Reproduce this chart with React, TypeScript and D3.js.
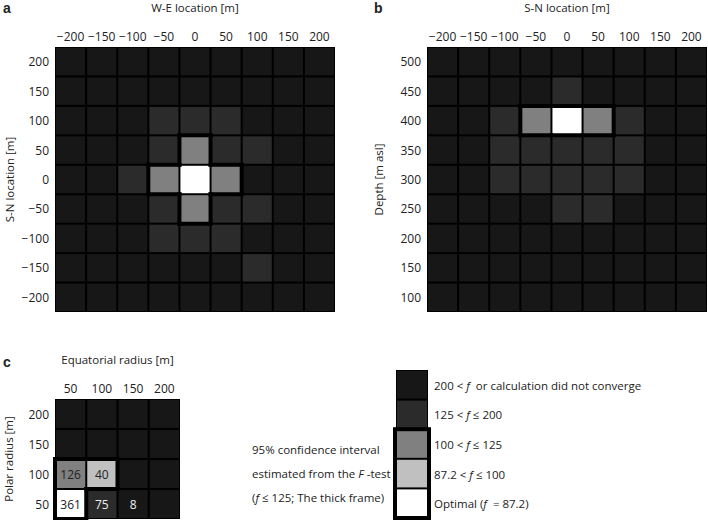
import React from 'react'
import * as d3 from 'd3'

// grey level per class: 0 = 200 < f (or no convergence) ... 4 = optimal
const levelColors = ['#171717', '#2b2b2b', '#808080', '#c0c0c0', '#ffffff']

const aCols = [-200, -150, -100, -50, 0, 50, 100, 150, 200]
const aRows = [200, 150, 100, 50, 0, -50, -100, -150, -200]
const aLevels = [
  [0, 0, 0, 0, 0, 0, 0, 0, 0],
  [0, 0, 0, 0, 0, 0, 0, 0, 0],
  [0, 0, 0, 1, 1, 1, 0, 0, 0],
  [0, 0, 0, 1, 2, 1, 1, 0, 0],
  [0, 0, 1, 2, 4, 2, 0, 0, 0],
  [0, 0, 0, 1, 2, 1, 1, 0, 0],
  [0, 0, 0, 1, 1, 1, 0, 0, 0],
  [0, 0, 0, 0, 0, 0, 1, 0, 0],
  [0, 0, 0, 0, 0, 0, 0, 0, 0],
]

const bCols = [-200, -150, -100, -50, 0, 50, 100, 150, 200]
const bRows = [500, 450, 400, 350, 300, 250, 200, 150, 100]
const bLevels = [
  [0, 0, 0, 0, 0, 0, 0, 0, 0],
  [0, 0, 0, 0, 1, 0, 0, 0, 0],
  [0, 0, 1, 2, 4, 2, 1, 0, 0],
  [0, 0, 1, 1, 1, 1, 1, 0, 0],
  [0, 0, 1, 1, 1, 1, 1, 0, 0],
  [0, 0, 0, 0, 1, 1, 0, 0, 0],
  [0, 0, 0, 0, 0, 0, 0, 0, 0],
  [0, 0, 0, 0, 0, 0, 0, 0, 0],
  [0, 0, 0, 0, 0, 0, 0, 0, 0],
]

const cCols = [50, 100, 150, 200]
const cRows = [200, 150, 100, 50]
const cLevels = [
  [0, 0, 0, 0],
  [0, 0, 0, 0],
  [2, 3, 0, 0],
  [4, 1, 0, 0],
]
const cCounts = [
  ['', '', '', ''],
  ['', '', '', ''],
  ['126', '40', '', ''],
  ['361', '75', '8', ''],
]

// *x* marks italic parts
const legendLabels = [
  '200 < *f*  or calculation did not converge',
  '125 < *f* ≤ 200',
  '100 < *f* ≤ 125',
  '87.2 < *f* ≤ 100',
  'Optimal (*f*  = 87.2)',
]
const legendNote = ['95% confidence interval', 'estimated from the *F* -test', '(*f* ≤ 125; The thick frame)']

const font = '"Open Sans", "Noto Sans", sans-serif'
const fs = 11.5

const fmt = (v: number) => (v < 0 ? '\u2212' + Math.abs(v) : String(v))

function Rich({ s }: { s: string }) {
  return (
    <>
      {s.split('*').map((part, i) => (
        <tspan key={i} fontStyle={i % 2 ? 'italic' : 'normal'} style={{ whiteSpace: 'pre' }}>
          {part}
        </tspan>
      ))}
    </>
  )
}

function Heatmap(props: {
  cols: number[]
  rows: number[]
  levels: number[][]
  counts?: string[][]
  left: number
  top: number
  width: number
  height: number
  letter: string
  xTitle: string
  yTitle: string
  titleY: number
  letterX: number
  letterY: number
  yTitleX: number
}) {
  const { cols, rows, levels, counts, left, top, width, height } = props
  const x = d3.scaleBand<number>().domain(cols).range([left, left + width])
  const y = d3.scaleBand<number>().domain(rows).range([top, top + height])
  const bw = x.bandwidth()
  const bh = y.bandwidth()

  // thick frame around cells inside the 95% interval (level >= 2)
  const inSet = (r: number, c: number) => r >= 0 && r < rows.length && c >= 0 && c < cols.length && levels[r][c] >= 2
  const segs: [number, number, number, number][] = []
  levels.forEach((row, r) =>
    row.forEach((_, c) => {
      if (!inSet(r, c)) return
      const x0 = x(cols[c])!
      const y0 = y(rows[r])!
      if (!inSet(r - 1, c)) segs.push([x0, y0, x0 + bw, y0])
      if (!inSet(r + 1, c)) segs.push([x0, y0 + bh, x0 + bw, y0 + bh])
      if (!inSet(r, c - 1)) segs.push([x0, y0, x0, y0 + bh])
      if (!inSet(r, c + 1)) segs.push([x0 + bw, y0, x0 + bw, y0 + bh])
    })
  )

  return (
    <g fontFamily={font} fontSize={fs} fill="#222">
      <text x={props.letterX} y={props.letterY} fontFamily='"Liberation Sans", Arial, sans-serif' fontWeight="bold" fontSize={14}>
        {props.letter}
      </text>
      <text x={left + width / 2} y={props.titleY} textAnchor="middle" dominantBaseline="central">
        {props.xTitle}
      </text>
      <text
        transform={`translate(${props.yTitleX},${top + height / 2}) rotate(-90)`}
        textAnchor="middle"
        dominantBaseline="central"
      >
        {props.yTitle}
      </text>
      {cols.map((c) => (
        <text key={'xt' + c} x={x(c)! + bw / 2} y={top - 11} textAnchor="middle" dominantBaseline="central" fontSize={12}>
          {fmt(c)}
        </text>
      ))}
      {rows.map((r) => (
        <text key={'yt' + r} x={left - 6} y={y(r)! + bh / 2} textAnchor="end" dominantBaseline="central" fontSize={12}>
          {fmt(r)}
        </text>
      ))}
      <rect x={left} y={top} width={width} height={height} fill="#000" />
      {levels.map((row, r) =>
        row.map((lv, c) => (
          <rect
            key={r + '-' + c}
            x={x(cols[c])! + 1}
            y={y(rows[r])! + 1}
            width={bw - 2}
            height={bh - 2}
            fill={levelColors[lv]}
          />
        ))
      )}
      {counts &&
        counts.map((row, r) =>
          row.map((t, c) =>
            t ? (
              <text
                key={'n' + r + '-' + c}
                x={x(cols[c])! + bw / 2}
                y={y(rows[r])! + bh / 2}
                textAnchor="middle"
                dominantBaseline="central"
                fontSize={12}
                fill={levels[r][c] >= 2 ? '#222' : '#eee'}
              >
                {t}
              </text>
            ) : null
          )
        )}
      {segs.map((s, i) => (
        <line key={'f' + i} x1={s[0]} y1={s[1]} x2={s[2]} y2={s[3]} stroke="#000" strokeWidth={4} strokeLinecap="square" />
      ))}
    </g>
  )
}

function Legend() {
  const left = 396
  const w = 32
  const ly = d3.scaleBand<number>().domain(d3.range(legendLabels.length)).range([370, 518])
  const bh = ly.bandwidth()
  const noteY = d3.scaleBand<number>().domain(d3.range(legendNote.length)).range([437, 509])
  return (
    <g fontFamily={font} fontSize={fs} fill="#222">
      <rect x={left} y={370} width={w} height={148} fill="#000" />
      {legendLabels.map((lab, i) => (
        <g key={i}>
          <rect x={left + 1} y={ly(i)! + 1} width={w - 2} height={bh - 2} fill={levelColors[i]} />
          <text x={left + 38} y={ly(i)! + bh / 2} dominantBaseline="central">
            <Rich s={lab} />
          </text>
        </g>
      ))}
      <rect x={left - 1} y={ly(2)!} width={w + 2} height={bh * 3} fill="none" stroke="#000" strokeWidth={4} />
      {legendNote.map((t, i) => (
        <text key={'n' + i} x={252} y={noteY(i)! + noteY.bandwidth() / 2} dominantBaseline="central">
          <Rich s={t} />
        </text>
      ))}
    </g>
  )
}

export default function App() {
  return (
    <svg width={708} height={520} style={{ position: 'absolute', left: 0, top: 0, background: '#fff' }}>
      <rect width={708} height={520} fill="#fff" />
      <Heatmap
        cols={aCols}
        rows={aRows}
        levels={aLevels}
        left={55}
        top={47}
        width={280}
        height={265}
        letter="a"
        xTitle="W-E location [m]"
        yTitle="S-N location [m]"
        titleY={7}
        letterX={3}
        letterY={13}
        yTitleX={9}
      />
      <Heatmap
        cols={bCols}
        rows={bRows}
        levels={bLevels}
        left={427}
        top={47}
        width={280}
        height={265}
        letter="b"
        xTitle="S-N location [m]"
        yTitle="Depth [m asl]"
        titleY={7}
        letterX={374}
        letterY={13}
        yTitleX={378}
      />
      <Heatmap
        cols={cCols}
        rows={cRows}
        levels={cLevels}
        counts={cCounts}
        left={55}
        top={399}
        width={125}
        height={120}
        letter="c"
        xTitle="Equatorial radius [m]"
        yTitle="Polar radius [m]"
        titleY={359}
        letterX={3}
        letterY={367}
        yTitleX={8}
      />
      <Legend />
    </svg>
  )
}
